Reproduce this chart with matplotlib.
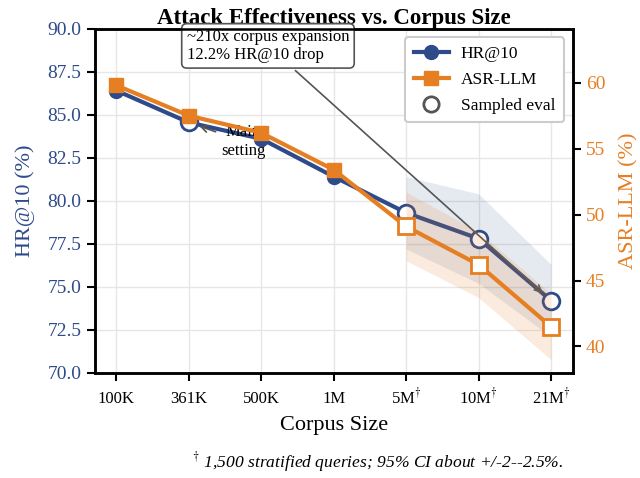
import numpy as np
import matplotlib
matplotlib.use('Agg')
import matplotlib.pyplot as plt
from matplotlib.lines import Line2D

plt.rcParams['font.family'] = ['Liberation Serif', 'DejaVu Serif']
plt.rcParams['mathtext.fontset'] = 'stix'

# data
sizes = ['100K', '361K', '500K', '1M', r'5M$^{\dagger}$', r'10M$^{\dagger}$', r'21M$^{\dagger}$']
hr10 = [86.4, 84.55, 83.6, 81.4, 79.3, 77.8, 74.2]
asr = [59.8, 57.5, 56.2, 53.4, 49.1, 46.2, 41.5]
sampled = [4, 5, 6]          # indices of sampled eval points
hr_ci = [2.1, 2.6, 2.1]
asr_ci = [2.6, 2.5, 2.5]

blue = '#2E4A8B'
orange = '#E67E22'
grey = '#555555'

x = np.arange(len(sizes))
xs = x[sampled]

fig, ax1 = plt.subplots(figsize=(6.4, 4.78), dpi=100)
ax2 = ax1.twinx()

# CI bands
hr_s = np.array(hr10)[sampled]
asr_s = np.array(asr)[sampled]
ax1.fill_between(xs, hr_s - hr_ci, hr_s + hr_ci, color=blue, alpha=0.12, lw=0)
ax2.fill_between(xs, asr_s - asr_ci, asr_s + asr_ci, color=orange, alpha=0.15, lw=0)

# lines
ax1.plot(x, hr10, '-o', color=blue, lw=3, ms=10, zorder=3)
ax2.plot(x, asr, '-s', color=orange, lw=3, ms=10, zorder=3)

# hollow markers for sampled eval (and main setting)
hollow = [1] + sampled
ax1.plot(x[hollow], np.array(hr10)[hollow], 'o', ls='none', mfc='white', mec=blue,
         mew=2, ms=12, zorder=4)
ax2.plot(xs, asr_s, 's', ls='none', mfc='white', mec=orange, mew=2, ms=12, zorder=4)

ax1.set_xlim(-0.3, 6.3)
ax1.set_ylim(70, 90)
ax2.set_ylim(38, 64.1)
ax1.set_yticks(np.arange(70, 90.1, 2.5))
ax1.set_yticklabels(['%.1f' % v for v in np.arange(70, 90.1, 2.5)])
ax2.set_yticks([40, 45, 50, 55, 60])

ax1.set_xticks(x)
ax1.set_xticklabels(sizes, fontsize=12)
for lab in ax1.get_xticklabels():
    lab.set_verticalalignment('baseline')
ax1.tick_params(axis='x', pad=16)
ax1.tick_params(axis='y', labelsize=14, labelcolor=blue)
ax2.tick_params(axis='y', labelsize=14, labelcolor=orange)
for a in (ax1, ax2):
    a.tick_params(length=6, width=1.5)
    for sp in a.spines.values():
        sp.set_linewidth(1.8)

ax1.grid(True, color='#e6e6e6', lw=1)
ax1.set_axisbelow(True)

ax1.set_xlabel('Corpus Size', fontsize=16, labelpad=6)
ax1.set_ylabel('HR@10 (%)', fontsize=16, color=blue, labelpad=9)
ax2.set_ylabel('ASR-LLM (%)', fontsize=16, color=orange, labelpad=10)
ax1.set_title('Attack Effectiveness vs. Corpus Size', fontsize=16.5, fontweight='bold', pad=3)

# annotations
ax1.annotate('Main\nsetting', xy=(1, hr10[1]), xytext=(1.75, 83.45), fontsize=12,
             ha='center', va='center',
             arrowprops=dict(arrowstyle='->', color=grey, lw=1.2, shrinkB=8))
ax1.annotate('~210x corpus expansion\n12.2% HR@10 drop', xy=(6, hr10[6]),
             xytext=(0.97, 89.0), fontsize=12, ha='left', va='center',
             bbox=dict(boxstyle='round,pad=0.3', fc='white', ec=grey, lw=1.2),
             arrowprops=dict(arrowstyle='->', color=grey, lw=1.2, shrinkB=8),
             annotation_clip=False, zorder=6)

handles = [
    Line2D([], [], color=blue, lw=3, marker='o', ms=10),
    Line2D([], [], color=orange, lw=3, marker='s', ms=10),
    Line2D([], [], ls='none', marker='o', ms=11, mfc='white', mec=grey, mew=2),
]
leg = ax2.legend(handles, ['HR@10', 'ASR-LLM', 'Sampled eval'], loc='upper right',
                 fontsize=12.5, handlelength=2.0, handletextpad=0.7, framealpha=1,
                 edgecolor='#cccccc', borderpad=0.5, labelspacing=0.55)
leg.get_frame().set_linewidth(1.5)
leg.set_zorder(10)

fig.text(0.59, 0.022, r'$^{\dagger}$ 1,500 stratified queries; 95% CI about +/-2--2.5%.',
         fontsize=12.6, style='italic', ha='center')

fig.subplots_adjust(left=0.148, right=0.895, top=0.94, bottom=0.22)
fig.savefig('out.png', dpi=100)
